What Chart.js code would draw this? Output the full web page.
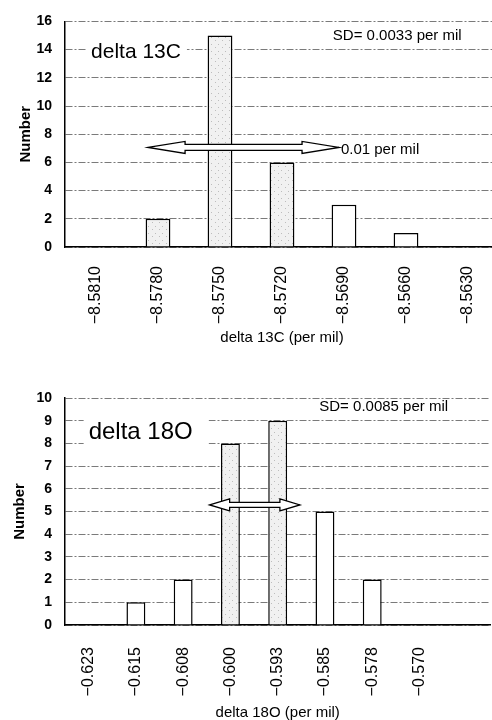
<!DOCTYPE html>
<html>
<head>
<meta charset="utf-8">
<script src="https://cdn.jsdelivr.net/npm/chart.js@4.4.1/dist/chart.umd.min.js"></script>
<style>
  html, body { margin: 0; padding: 0; background: #fff; overflow: hidden; width: 492px; height: 720px; }
  .box { position: absolute; left: 0; width: 500px; }
  #topBox { top: 0; height: 350px; }
  #botBox { top: 360px; height: 362px; }
</style>
</head>
<body>
<div class="box" id="topBox"><canvas id="c13"></canvas></div>
<div class="box" id="botBox"><canvas id="o18"></canvas></div>
<script>
// delta 13C histogram
const c13Labels = ["\u22128.5810", "\u22128.5780", "\u22128.5750", "\u22128.5720", "\u22128.5690", "\u22128.5660", "\u22128.5630"];
const c13Counts = [0, 2, 15, 6, 3, 1, 0];

// delta 18O histogram (last bin carries no label in the original)
const o18Labels = ["\u22120.623", "\u22120.615", "\u22120.608", "\u22120.600", "\u22120.593", "\u22120.585", "\u22120.578", "\u22120.570", ""];
const o18Counts = [0, 1, 2, 8, 9, 5, 2, 0, 0];

const FONT = "'Liberation Sans', Arial, sans-serif";

// light dotted fill like the scanned bars
function stipple(canvasId) {
  const c = document.createElement("canvas");
  c.width = 7; c.height = 7;
  const g = c.getContext("2d");
  g.fillStyle = "#f1f1f1";
  g.fillRect(0, 0, 7, 7);
  g.fillStyle = "#bdbdbd";
  g.fillRect(1, 2, 1, 1);
  g.fillRect(5, 5, 1, 1);
  return document.getElementById(canvasId).getContext("2d").createPattern(c, "repeat");
}

function drawArrow(ctx, x1, x2, yc, head, hh, sh) {
  ctx.save();
  ctx.beginPath();
  ctx.moveTo(x1, yc);
  ctx.lineTo(x1 + head, yc - hh);
  ctx.lineTo(x1 + head, yc - sh);
  ctx.lineTo(x2 - head, yc - sh);
  ctx.lineTo(x2 - head, yc - hh);
  ctx.lineTo(x2, yc);
  ctx.lineTo(x2 - head, yc + hh);
  ctx.lineTo(x2 - head, yc + sh);
  ctx.lineTo(x1 + head, yc + sh);
  ctx.lineTo(x1 + head, yc + hh);
  ctx.closePath();
  ctx.fillStyle = "#fff";
  ctx.fill();
  ctx.lineWidth = 1.3;
  ctx.strokeStyle = "#000";
  ctx.stroke();
  ctx.restore();
}

// text labels and the range arrow, placed in axis units
const notesPlugin = {
  id: "notes",
  afterDatasetsDraw(chart, args, o) {
    const { ctx, scales: { x, y } } = chart;
    const a = o.arrow;
    drawArrow(ctx, x.getPixelForValue(a.from), x.getPixelForValue(a.to), y.getPixelForValue(a.at), a.head, a.half, a.shaft);

    o.texts.forEach(t => {
      ctx.save();
      ctx.font = t.font;
      const px = x.getPixelForValue(t.x);
      const py = y.getPixelForValue(t.y);
      const w = ctx.measureText(t.text).width;
      if (t.box) {
        ctx.fillStyle = "#fff";
        ctx.fillRect(px - t.box[0], py - t.box[1], w + t.box[0] + t.box[2], t.box[1] * 2);
      }
      ctx.fillStyle = "#000";
      ctx.textAlign = "left";
      ctx.textBaseline = "middle";
      ctx.fillText(t.text, px, py);
      ctx.restore();
    });
  }
};

function makeChart(id, labels, counts, fills, cfg) {
  return new Chart(document.getElementById(id), {
    type: "bar",
    data: {
      labels: labels,
      datasets: [{
        data: counts,
        backgroundColor: fills,
        borderColor: "#000",
        borderWidth: 1.5,
        barPercentage: 0.8,
        categoryPercentage: 0.5
      }]
    },
    options: {
      responsive: true,
      maintainAspectRatio: false,
      animation: false,
      layout: { padding: { top: cfg.padTop, right: 1, left: 0, bottom: 0 }, autoPadding: false },
      plugins: {
        legend: { display: false },
        tooltip: { enabled: false },
        notes: cfg.notes
      },
      scales: {
        x: {
          grid: { display: false },
          border: { display: true, color: "#000", width: 1.5 },
          ticks: {
            autoSkip: false,
            minRotation: 90,
            maxRotation: 90,
            padding: cfg.xPad,
            color: "#000",
            font: { family: FONT, size: 16 }
          },
          title: {
            display: true,
            text: cfg.xTitle,
            color: "#000",
            font: { family: FONT, size: 15 },
            padding: { top: 0, bottom: cfg.xTitlePad }
          },
          afterFit(scale) { scale.height = cfg.xHeight; }
        },
        y: {
          min: 0,
          max: cfg.yMax,
          grid: { color: "#7a7a7a", lineWidth: 1, drawTicks: false },
          border: { display: true, color: "#000", width: 1.5, dash: [7, 2, 2, 2] },
          ticks: {
            stepSize: cfg.yStep,
            padding: 13,
            color: "#000",
            font: { family: FONT, size: 14, weight: "bold" }
          },
          title: {
            display: true,
            text: "Number",
            color: "#000",
            font: { family: FONT, size: 15, weight: "bold" },
            padding: { top: cfg.yTitlePad, bottom: 0 }
          },
          afterFit(scale) { scale.width = 65; }
        }
      }
    },
    plugins: [notesPlugin]
  });
}

const p13 = stipple("c13");
makeChart("c13", c13Labels, c13Counts, ["#fff", p13, p13, p13, "#fff", "#fff", "#fff"], {
  padTop: 18, xHeight: 103, xPad: 11, xTitle: "delta 13C (per mil)", xTitlePad: 3,
  yMax: 16, yStep: 2, yTitlePad: 17,
  notes: {
    arrow: { from: 0.84, to: 3.92, at: 7.06, head: 37, half: 6, shaft: 3 },
    texts: [
      { text: "delta 13C", x: -0.08, y: 13.8, font: "21px " + FONT, box: [5, 12, 6] },
      { text: "SD= 0.0033 per mil", x: 3.82, y: 14.95, font: "15px " + FONT },
      { text: "0.01 per mil", x: 3.95, y: 6.9, font: "15px " + FONT }
    ]
  }
});

const p18 = stipple("o18");
makeChart("o18", o18Labels, o18Counts, ["#fff", "#fff", "#fff", p18, p18, "#fff", "#fff", "#fff", "#fff"], {
  padTop: 38, xHeight: 97, xPad: 14, xTitle: "delta 18O (per mil)", xTitlePad: 0,
  yMax: 10, yStep: 1, yTitlePad: 11,
  notes: {
    arrow: { from: 2.56, to: 4.47, at: 5.29, head: 20, half: 6, shaft: 2.5 },
    texts: [
      { text: "delta 18O", x: 0.0, y: 8.5, font: "24px " + FONT, box: [5, 15, 16] },
      { text: "SD= 0.0085 per mil", x: 4.88, y: 9.6, font: "15px " + FONT }
    ]
  }
});
</script>
</body>
</html>
